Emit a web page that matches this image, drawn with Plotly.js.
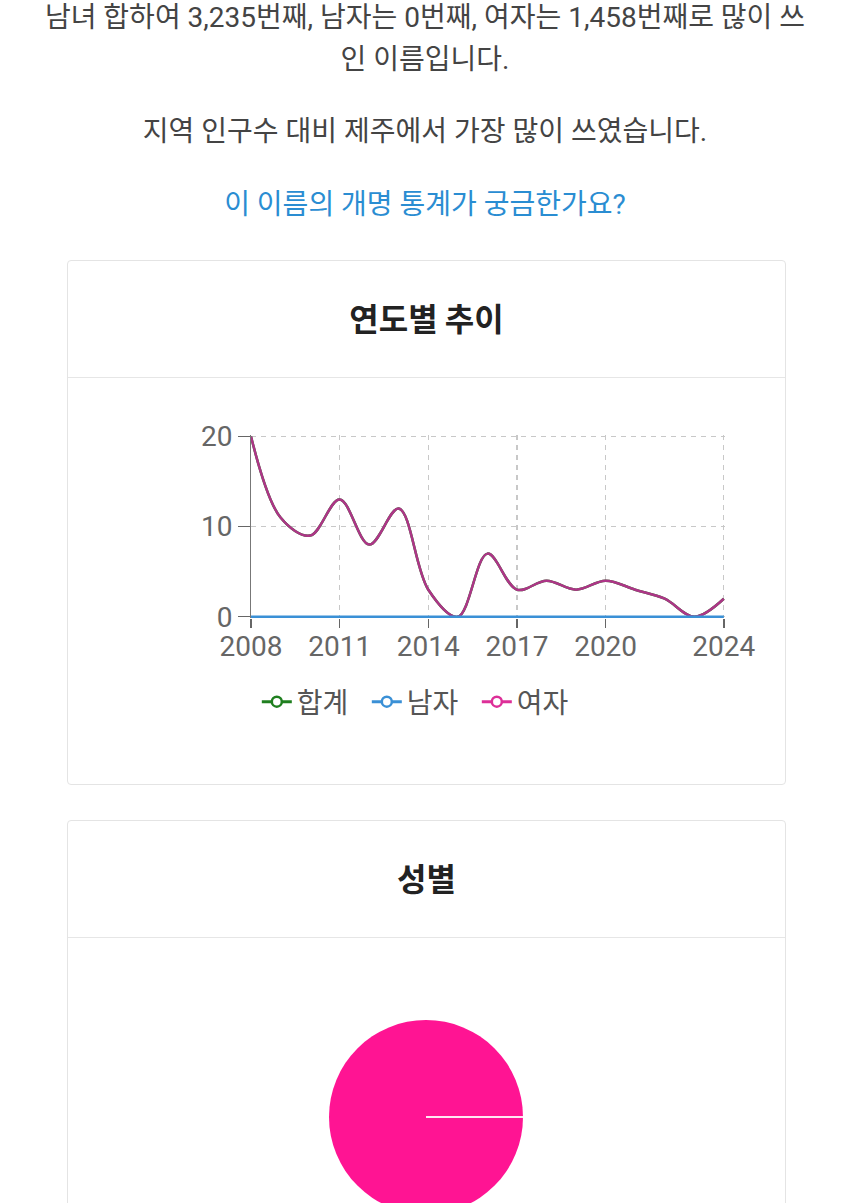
<!DOCTYPE html>
<html>
<head>
<meta charset="utf-8">
<script src="https://cdn.plot.ly/plotly-3.0.1.min.js"></script>
<style>
  html, body { margin:0; padding:0; background:#fff; overflow:hidden; width:850px; height:1203px; }
  body { font-family: Roboto, "Noto Sans CJK KR", sans-serif; color:#444; position:relative; }
  .p { position:absolute; left:0; width:850px; text-align:center; font-size:28px; line-height:42px; color:#444; }
  .link { color:#2a8dd2; }
  .card { position:absolute; left:67px; width:717px; border:1px solid #e4e4e4; border-radius:4px; background:#fff; }
  .hdr { height:116px; border-bottom:1px solid #e6e6e6; text-align:center; line-height:112px; font-size:32px; font-weight:bold; color:#222; font-family: "Noto Sans CJK KR", sans-serif; }
  #trend { position:absolute; left:67px; top:378px; width:719px; height:406px; }
  #gender { position:absolute; left:67px; top:938px; width:719px; height:400px; }
</style>
</head>
<body>
<div class="p" style="top:-3px;">남녀 합하여 3,235번째, 남자는 0번째, 여자는 1,458번째로 많이 쓰<br>인 이름입니다.</div>
<div class="p" style="top:111px;">지역 인구수 대비 제주에서 가장 많이 쓰였습니다.</div>
<div class="p link" style="top:184px;">이 이름의 개명 통계가 궁금한가요?</div>

<div class="card" style="top:260px; height:523px;"><div class="hdr">연도별 추이</div></div>
<div class="card" style="top:820px; height:600px;"><div class="hdr">성별</div></div>

<div id="trend"></div>
<div id="gender"></div>

<script>
// ---- data ----
var years = [2008,2009,2010,2011,2012,2013,2014,2015,2016,2017,2018,2019,2020,2021,2022,2023,2024];
var totalVals  = [20,11,9,13,8,12,3,0,7,3,4,3,4,3,2,0,2];
var maleVals   = [0,0,0,0,0,0,0,0,0,0,0,0,0,0,0,0,0];
var femaleVals = [20,11,9,13,8,12,3,0,7,3,4,3,4,3,2,0,2];
var seriesNames = ['합계','남자','여자'];
var xTickVals = [2008,2011,2014,2017,2020,2024];
var yTickVals = [0,10,20];

var genderLabels = ['남자','여자'];
var genderValues = [0,100];

// ---- trend chart ----
var fontFam = 'Roboto, "Noto Sans CJK KR", sans-serif';
function lineTrace(name, vals, lineColor){
  return {
    x: years, y: vals, name: name, type:'scatter', mode:'lines',
    line:{color:lineColor, width:2.5, shape:'spline', smoothing:1},
    hoverinfo:'skip', showlegend:false
  };
}
function legendTrace(name, color){
  return {
    x:[null], y:[null], name:name, type:'scatter', mode:'lines+markers',
    line:{color:color, width:3}, marker:{size:10, color:'#fff', symbol:'circle', line:{color:color, width:2.5}},
    hoverinfo:'skip', showlegend:true
  };
}
var traces = [
  lineTrace(seriesNames[0], totalVals, '#1f7f1f'),
  lineTrace(seriesNames[2], femaleVals, '#ad3587'),
  lineTrace(seriesNames[1], maleVals, '#3a90d6'),
  legendTrace(seriesNames[0], '#1f7f1f'),
  legendTrace(seriesNames[1], '#3a90d6'),
  legendTrace(seriesNames[2], '#dd2f98')
];

var layout = {
  width:719, height:406,
  margin:{l:184, r:61, t:57, b:166},
  paper_bgcolor:'rgba(0,0,0,0)', plot_bgcolor:'rgba(0,0,0,0)',
  font:{family:fontFam, size:28, color:'#666'},
  showlegend:true,
  legend:{orientation:'h', xref:'container', yref:'container', x:0.264, xanchor:'left', y:0.202, yanchor:'middle',
          font:{size:28, color:'#555'}, traceorder:'normal', itemclick:false, itemwidth:30,
          entrywidth:65, entrywidthmode:'pixels'},
  xaxis:{range:[2008,2024.04], tickvals:xTickVals, ticktext:xTickVals.map(String), showgrid:true, gridcolor:'#c8c8c8', griddash:'5px,5px', gridwidth:1.2,
         zeroline:false, showline:false, ticks:'outside', ticklen:9, tickcolor:'#666', tickwidth:1.5,
         ticklabelstandoff:-6, tickfont:{size:28, color:'#666'}, fixedrange:true},
  yaxis:{range:[-0.14,20.16], tickvals:yTickVals, showgrid:true, gridcolor:'#c8c8c8', griddash:'5px,5px', gridwidth:1.2,
         zeroline:false, showline:true, linecolor:'#777', linewidth:1, ticks:'outside', ticklen:12, tickcolor:'#666', tickwidth:1.5,
         tickfont:{size:28, color:'#666'}, fixedrange:true}
};
Plotly.newPlot('trend', traces, layout, {displayModeBar:false, staticPlot:true});

// ---- gender pie ----
Plotly.newPlot('gender', [{
  type:'pie', labels:genderLabels, values:genderValues, sort:false, direction:'counterclockwise', rotation:90,
  marker:{colors:['#3a90d6','#ff1493'], line:{color:'#ff1493', width:0}},
  textinfo:'none', hoverinfo:'skip', showlegend:false
}], {
  width:719, height:400, margin:{l:262, r:263, t:82, b:124},
  paper_bgcolor:'rgba(0,0,0,0)', showlegend:false,
  // slice boundary line (white separator at the zero-size 남자 slice)
  shapes:[{type:'line', xref:'paper', yref:'paper', x0:0.5, y0:0.5, x1:1, y1:0.5, line:{color:'#ffe6f2', width:2}}]
}, {displayModeBar:false, staticPlot:true});
</script>
</body>
</html>
